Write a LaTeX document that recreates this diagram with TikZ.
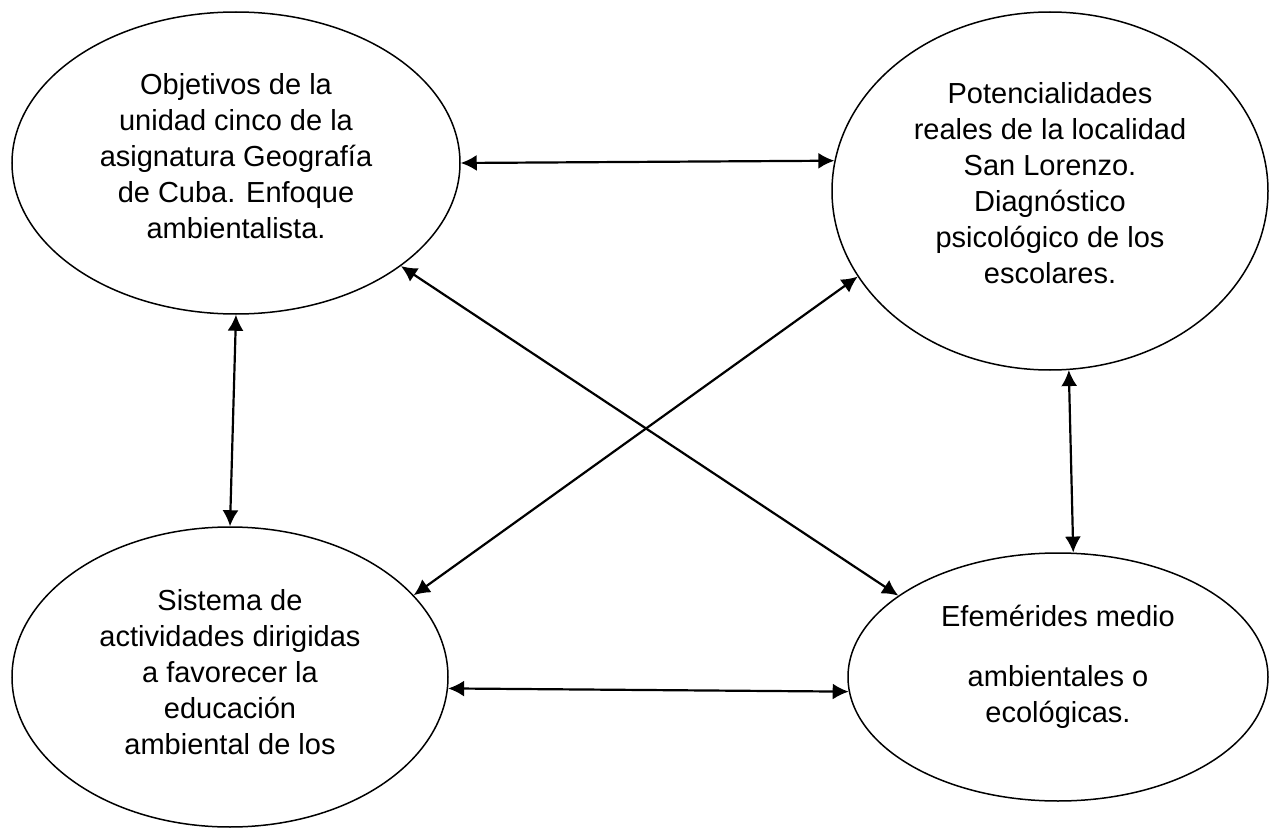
\documentclass[tikz,border=0pt]{standalone}
\usepackage{fontspec}
\setmainfont{Liberation Sans}
\usepackage{tikz}
\usetikzlibrary{arrows.meta}
\usetikzlibrary{shapes.geometric}

% extra depth below the last line, lifts the text in its ellipse
\newcommand{\lift}[1]{\rule[-#1]{0pt}{#1}}

\begin{document}
\begin{tikzpicture}[x=0.5pt,y=-0.5pt,
        bubble/.style={draw,ellipse,line width=0.75pt,inner sep=0pt,align=center,font=\fontsize{14.5}{18}\selectfont},
        link/.style={{Latex[length=8pt,width=8pt]}-{Latex[length=8pt,width=8pt]},line width=1.1pt}]
        \useasboundingbox (0,0) rectangle (1276,829);

        \node[bubble,minimum width=224pt,minimum height=151pt] (obj) at (236,163)
            {Objetivos de la\\ unidad cinco de la\\ asignatura Geografía\\ de Cuba. Enfoque\\ ambientalista.\lift{7pt}};
        \node[bubble,minimum width=218pt,minimum height=179pt] (pot) at (1050,191)
            {Potencialidades\\ reales de la localidad\\ San Lorenzo.\\ Diagnóstico\\ psicológico de los\\ escolares.\lift{8pt}};
        \node[bubble,minimum width=218pt,minimum height=150pt] (sis) at (230,677)
            {Sistema de\\ actividades dirigidas\\ a favorecer la\\ educación\\ ambiental de los\lift{5pt}};
        \node[bubble,minimum width=210pt,minimum height=124pt] (efe) at (1058,677)
            {Efemérides medio\\[12pt] ambientales o\\ ecológicas.\lift{13pt}};

        \draw [link] (obj.east) -- (pot.172.6);
        \draw [link] (obj.-32.8) -- (efe.153.2);
        \draw [link] (sis.24.7) -- (pot.204.8);
        \draw [link] (obj.south) -- (sis.north);
        \draw [link] (pot.-84.6) -- (efe.83.1);
        \draw [link] (sis.-3.6) -- (efe.184.1);
\end{tikzpicture}
\end{document}
